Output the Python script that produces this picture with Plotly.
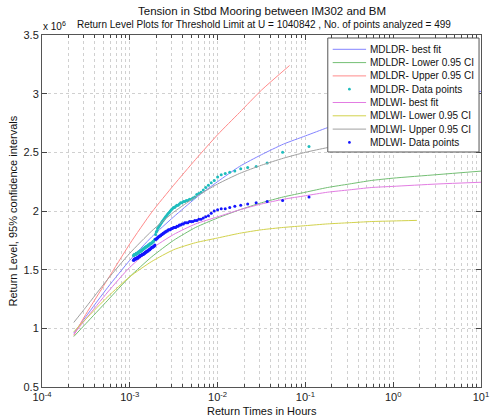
import plotly.graph_objects as go

# ---------------- data (values in units of 10^6) ----------------
# Empirical return times (hours) for the plotted data points (rank 1..100)
data_return_times = [
    0.11, 0.055, 0.03667, 0.0275, 0.022, 0.01833, 0.01571, 0.01375, 0.01222, 0.011,
    0.01, 0.009167, 0.008462, 0.007857, 0.007333, 0.006875, 0.006471, 0.006111, 0.005789, 0.0055,
    0.005238, 0.005, 0.004783, 0.004583, 0.0044, 0.004231, 0.004074, 0.003929, 0.003793, 0.003667,
    0.003548, 0.003438, 0.003333, 0.003235, 0.003143, 0.003056, 0.002973, 0.002895, 0.002821, 0.00275,
    0.002683, 0.002619, 0.002558, 0.0025, 0.002444, 0.002391, 0.00234, 0.002292, 0.002245, 0.0022,
    0.002157, 0.002115, 0.002075, 0.002037, 0.002, 0.001964, 0.00193, 0.001897, 0.001864, 0.001833,
    0.001803, 0.001774, 0.001746, 0.001719, 0.001692, 0.001667, 0.001642, 0.001618, 0.001594, 0.001571,
    0.001549, 0.001528, 0.001507, 0.001486, 0.001467, 0.001447, 0.001429, 0.00141, 0.001392, 0.001375,
    0.001358, 0.001341, 0.001325, 0.00131, 0.001294, 0.001279, 0.001264, 0.00125, 0.001236, 0.001222,
    0.001209, 0.001196, 0.001183, 0.00117, 0.001158, 0.001146, 0.001134, 0.001122, 0.001111, 0.0011,
]

mdldr_data = [
    2.55, 2.50, 2.41, 2.38, 2.37, 2.36, 2.34, 2.33, 2.32, 2.31,
    2.29, 2.26, 2.24, 2.22, 2.20, 2.18, 2.16, 2.15, 2.14, 2.12,
    2.11, 2.10, 2.10, 2.09, 2.09, 2.08, 2.08, 2.07, 2.07, 2.06,
    2.05, 2.05, 2.04, 2.03, 2.03, 2.02, 2.01, 2.00, 1.99, 1.98,
    1.97, 1.96, 1.95, 1.94, 1.93, 1.92, 1.91, 1.90, 1.89, 1.88,
    1.87, 1.86, 1.85, 1.83, 1.82, 1.80, 1.76, 1.75, 1.74, 1.74,
    1.73, 1.73, 1.72, 1.72, 1.72, 1.71, 1.71, 1.71, 1.70, 1.70,
    1.70, 1.69, 1.69, 1.69, 1.68, 1.68, 1.68, 1.67, 1.67, 1.67,
    1.66, 1.66, 1.66, 1.66, 1.65, 1.65, 1.65, 1.65, 1.64, 1.64,
    1.64, 1.64, 1.64, 1.63, 1.63, 1.63, 1.63, 1.63, 1.62, 1.62,
]

mdlwi_data = [
    2.12, 2.09, 2.08, 2.07, 2.06, 2.05, 2.04, 2.03, 2.02, 2.02,
    2.01, 2.00, 1.98, 1.96, 1.95, 1.94, 1.93, 1.93, 1.92, 1.92,
    1.91, 1.91, 1.91, 1.90, 1.90, 1.90, 1.89, 1.89, 1.88, 1.88,
    1.87, 1.87, 1.86, 1.86, 1.86, 1.85, 1.85, 1.84, 1.84, 1.84,
    1.83, 1.83, 1.82, 1.82, 1.81, 1.81, 1.80, 1.80, 1.79, 1.79,
    1.78, 1.78, 1.77, 1.77, 1.76, 1.76, 1.71, 1.70, 1.70, 1.69,
    1.69, 1.69, 1.68, 1.68, 1.67, 1.67, 1.67, 1.66, 1.66, 1.66,
    1.65, 1.65, 1.65, 1.64, 1.64, 1.64, 1.63, 1.63, 1.63, 1.63,
    1.62, 1.62, 1.62, 1.62, 1.61, 1.61, 1.61, 1.61, 1.60, 1.60,
    1.60, 1.60, 1.60, 1.59, 1.59, 1.59, 1.59, 1.59, 1.58, 1.58,
]

# Fitted curves (return time in hours -> level), read at quarter-decade steps
curve_t = [2.3e-4, 3.16e-4, 5.62e-4, 1e-3, 1.78e-3, 3.16e-3, 5.62e-3, 1e-2, 1.78e-2,
           3.16e-2, 5.62e-2, 0.1, 0.178, 0.316, 0.562, 1.0, 3.16, 10.0]

mdldr_best = [0.96, 1.10, 1.35, 1.58, 1.78, 1.95, 2.11, 2.25, 2.38,
              2.48, 2.57, 2.64, 2.71, 2.77, 2.83, 2.88, 2.96, 3.02]
mdldr_lower = [0.93, 1.04, 1.24, 1.44, 1.61, 1.75, 1.86, 1.94, 2.01,
               2.07, 2.12, 2.16, 2.20, 2.23, 2.26, 2.28, 2.31, 2.34]
mdldr_upper_t = [2.3e-4, 3.16e-4, 5.62e-4, 1e-3, 1.78e-3, 3.16e-3, 5.62e-3, 1e-2, 1.78e-2,
                 3.16e-2, 0.066]
mdldr_upper = [0.94, 1.12, 1.42, 1.72, 1.99, 2.22, 2.44, 2.65, 2.84, 3.03, 3.24]

mdlwi_best = [0.95, 1.08, 1.31, 1.52, 1.68, 1.80, 1.89, 1.95, 2.01,
              2.06, 2.10, 2.13, 2.16, 2.18, 2.20, 2.21, 2.23, 2.245]
mdlwi_lower_t = [2.3e-4, 3.16e-4, 5.62e-4, 1e-3, 1.78e-3, 3.16e-3, 5.62e-3, 1e-2, 1.78e-2,
                 3.16e-2, 5.62e-2, 0.1, 0.178, 0.316, 0.562, 1.0, 1.86]
mdlwi_lower = [0.97, 1.08, 1.27, 1.44, 1.57, 1.67, 1.73, 1.77, 1.81,
               1.84, 1.86, 1.875, 1.89, 1.90, 1.91, 1.915, 1.92]
mdlwi_upper_t = [2.3e-4, 3.16e-4, 5.62e-4, 1e-3, 1.78e-3, 3.16e-3, 5.62e-3, 1e-2, 1.78e-2,
                 3.16e-2, 5.62e-2, 0.1, 0.178, 0.316, 0.562, 1.0]
mdlwi_upper = [1.05, 1.18, 1.42, 1.64, 1.83, 1.99, 2.12, 2.23, 2.32,
               2.39, 2.45, 2.50, 2.54, 2.57, 2.60, 2.62]

x_tick_vals = [1e-4, 1e-3, 1e-2, 1e-1, 1e0, 1e1]
x_tick_text = ["10<sup>-4</sup>", "10<sup>-3</sup>", "10<sup>-2</sup>",
               "10<sup>-1</sup>", "10<sup>0</sup>", "10<sup>1</sup>"]
y_tick_vals = [0.5, 1.0, 1.5, 2.0, 2.5, 3.0, 3.5]
y_tick_text = ["0.5", "1", "1.5", "2", "2.5", "3", "3.5"]

legend_labels = ["MDLDR- best fit", "MDLDR- Lower 0.95 CI", "MDLDR- Upper 0.95 CI",
                 "MDLDR- Data points", "MDLWI- best fit", "MDLWI- Lower 0.95 CI",
                 "MDLWI- Upper 0.95 CI", "MDLWI- Data points"]

# ---------------- styles ----------------
C_BLUE = "#8484ff"
C_GREEN = "#74bf74"
C_RED = "#ff8a8a"
C_CYAN = "#1fbdbd"
C_PINK = "#e27ce2"
C_YEL = "#d2d24c"
C_GREY = "#a0a0a0"
C_DBLUE = "#1414ff"
FONT = "Liberation Sans, Arial, Helvetica, sans-serif"
GRID = "#d0d0d0"

W, H = 492, 419
ML, MR, MT, MB = 42, 3, 35, 32
PW, PH = W - ML - MR, H - MT - MB


def px_x(p):
    return (p - ML) / PW


def px_y(p):
    return 1 - (p - MT) / PH


fig = go.Figure()

line_specs = [
    (curve_t, mdldr_best, C_BLUE, legend_labels[0]),
    (curve_t, mdldr_lower, C_GREEN, legend_labels[1]),
    (mdldr_upper_t, mdldr_upper, C_RED, legend_labels[2]),
]
for xs, ys, c, name in line_specs:
    fig.add_trace(go.Scatter(x=xs, y=ys, mode="lines", name=name,
                             line=dict(color=c, width=1, shape="spline", smoothing=0.6)))

fig.add_trace(go.Scatter(x=data_return_times, y=mdldr_data, mode="markers", name=legend_labels[3],
                         marker=dict(color=C_CYAN, size=3)))

line_specs2 = [
    (curve_t, mdlwi_best, C_PINK, legend_labels[4]),
    (mdlwi_lower_t, mdlwi_lower, C_YEL, legend_labels[5]),
    (mdlwi_upper_t, mdlwi_upper, C_GREY, legend_labels[6]),
]
for xs, ys, c, name in line_specs2:
    fig.add_trace(go.Scatter(x=xs, y=ys, mode="lines", name=name,
                             line=dict(color=c, width=1, shape="spline", smoothing=0.6)))

fig.add_trace(go.Scatter(x=data_return_times, y=mdlwi_data, mode="markers", name=legend_labels[7],
                         marker=dict(color=C_DBLUE, size=3)))

minor_vals = [k * 10 ** e for e in range(-4, 1) for k in range(2, 10)]

fig.update_xaxes(
    type="log", range=[-4, 1],
    tickvals=x_tick_vals, ticktext=x_tick_text, ticklabeloverflow="allow",
    ticks="inside", ticklen=5, tickcolor="#444",
    showline=True, linecolor="#555", linewidth=1, mirror="allticks",
    showgrid=True, gridcolor=GRID, griddash="dot", gridwidth=1,
    minor=dict(tickvals=minor_vals, ticks="inside", ticklen=3, tickcolor="#444",
               showgrid=True, gridcolor=GRID, griddash="dot", gridwidth=1),
    zeroline=False, tickfont=dict(size=11, family=FONT, color="#222"),
)
fig.update_yaxes(
    range=[0.5, 3.5], tickvals=y_tick_vals, ticktext=y_tick_text,
    ticks="inside", ticklen=5, tickcolor="#444",
    showline=True, linecolor="#555", linewidth=1, mirror="allticks",
    showgrid=True, gridcolor=GRID, griddash="dot", gridwidth=1,
    zeroline=False, tickfont=dict(size=11, family=FONT, color="#222"),
)

# ---------------- custom legend (MATLAB style) ----------------
shapes = [dict(type="rect", xref="paper", yref="paper", layer="above",
               x0=px_x(333), x1=px_x(487), y0=px_y(152), y1=px_y(38),
               fillcolor="white", line=dict(color="#555", width=1))]
annotations = []
row_y = [49.3, 62.6, 75.9, 89.2, 102.5, 115.8, 129.1, 142.4]
leg_colors = [C_BLUE, C_GREEN, C_RED, C_CYAN, C_PINK, C_YEL, C_GREY, C_DBLUE]
leg_is_marker = [False, False, False, True, False, False, False, True]
for lab, yy, c, mk in zip(legend_labels, row_y, leg_colors, leg_is_marker):
    if mk:
        r = 1.4
        shapes.append(dict(type="circle", xref="paper", yref="paper", layer="above",
                           x0=px_x(355 - r), x1=px_x(355 + r), y0=px_y(yy + r), y1=px_y(yy - r),
                           fillcolor=c, line=dict(color=c, width=0)))
    else:
        shapes.append(dict(type="line", xref="paper", yref="paper", layer="above",
                           x0=px_x(338), x1=px_x(372), y0=px_y(yy), y1=px_y(yy),
                           line=dict(color=c, width=1)))
    annotations.append(dict(text=lab, xref="paper", yref="paper", x=px_x(374), y=px_y(yy),
                            xanchor="left", yanchor="middle", showarrow=False,
                            font=dict(size=10, family=FONT, color="#111")))

# titles and labels
annotations += [
    dict(text="Tension in Stbd Mooring between IM302 and BM", xref="paper", yref="paper",
         x=0.5, y=px_y(10.5), xanchor="center", yanchor="middle", showarrow=False,
         font=dict(size=11.5, family=FONT, color="#111")),
    dict(text="Return Level Plots for Threshold Limit at U = 1040842 , No. of points analyzed = 499",
         xref="paper", yref="paper", x=0.505, y=px_y(24.5), xanchor="center", yanchor="middle",
         showarrow=False, font=dict(size=10, family=FONT, color="#111")),
    dict(text="x 10<sup>6</sup>", xref="paper", yref="paper", x=px_x(41), y=px_y(26),
         xanchor="left", yanchor="middle", showarrow=False,
         font=dict(size=10, family=FONT, color="#111")),
    dict(text="Return Level, 95% confidence intervals", xref="paper", yref="paper",
         x=px_x(12), y=0.5, xanchor="center", yanchor="middle", textangle=-90, showarrow=False,
         font=dict(size=11, family=FONT, color="#111")),
    dict(text="Return Times in Hours", xref="paper", yref="paper", x=0.5, y=px_y(411),
         xanchor="center", yanchor="middle", showarrow=False,
         font=dict(size=11, family=FONT, color="#111")),
]

fig.update_layout(
    width=W, height=H,
    margin=dict(l=ML, r=MR, t=MT, b=MB),
    paper_bgcolor="white", plot_bgcolor="white",
    showlegend=False,
    shapes=shapes, annotations=annotations,
    font=dict(family=FONT, size=11, color="#111"),
)

fig.write_html("out.html")
